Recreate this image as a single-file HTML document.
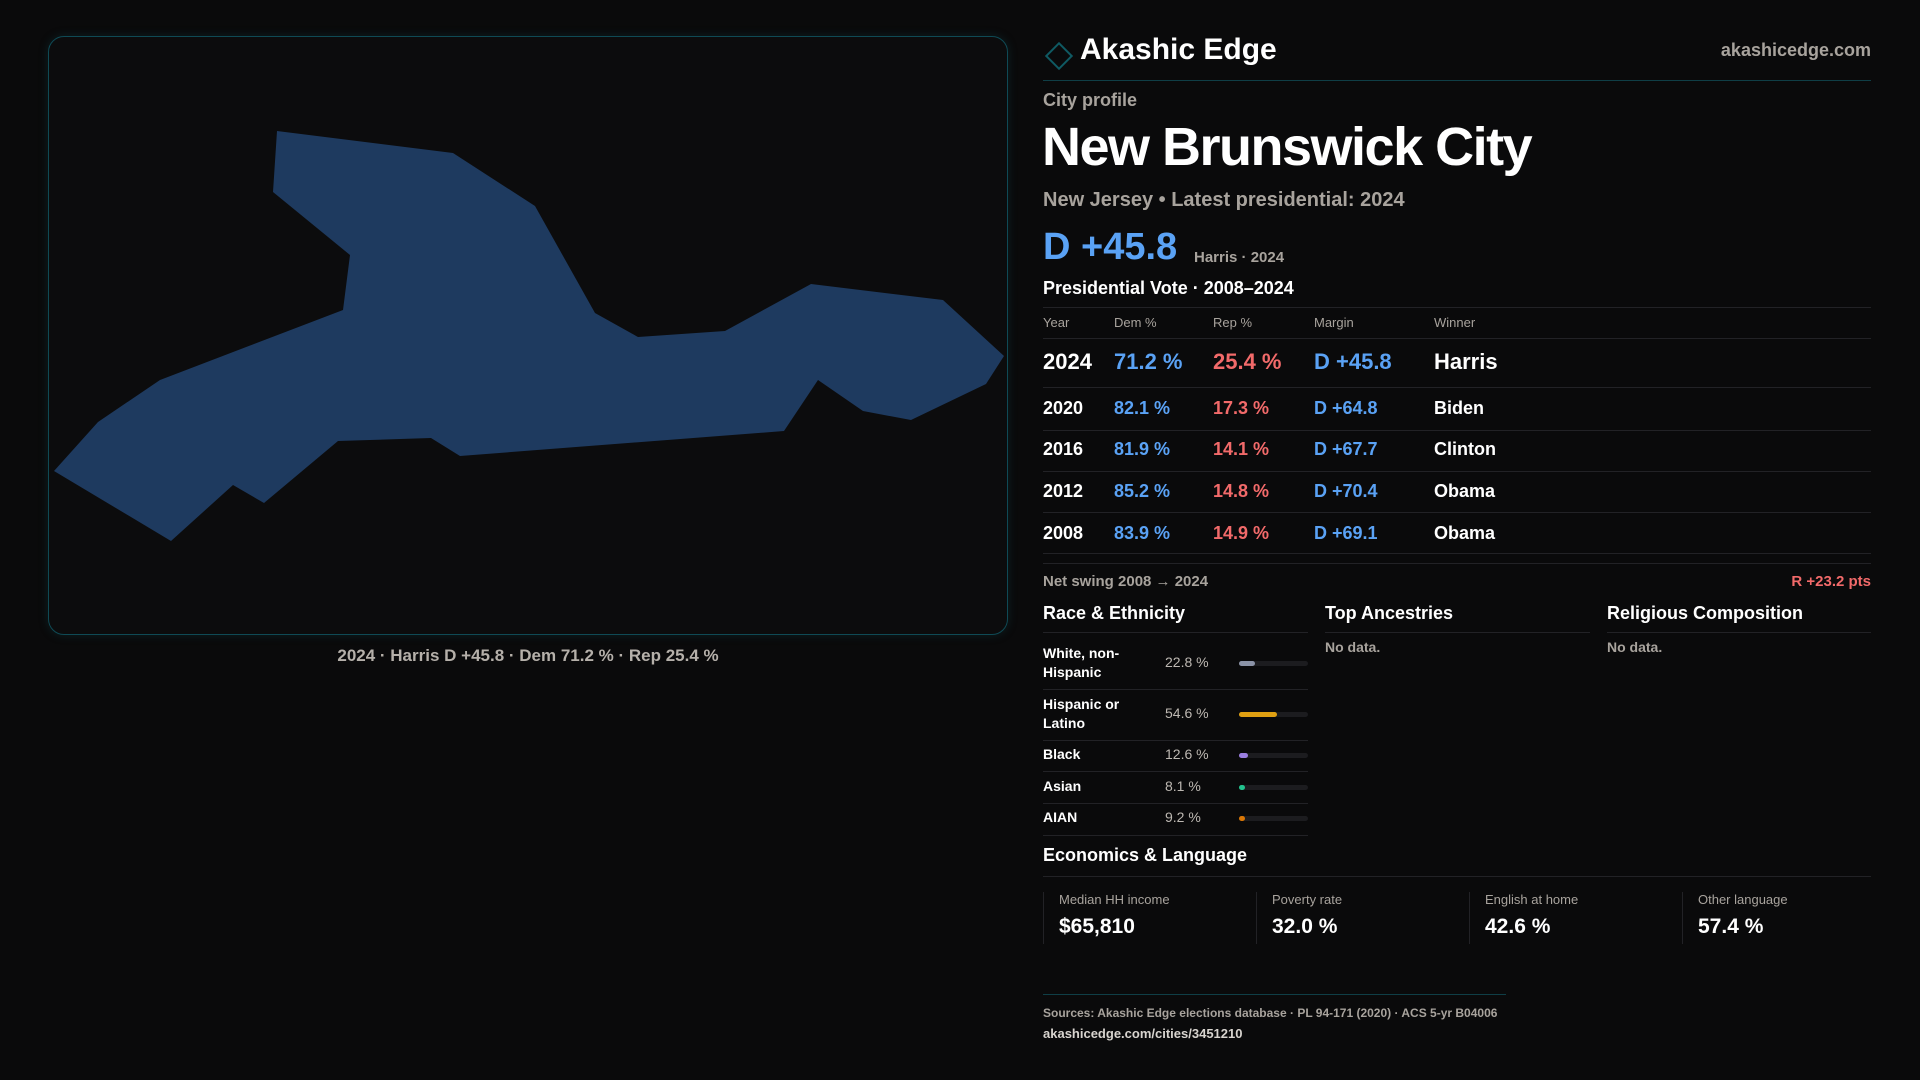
<!DOCTYPE html>
<html><head><meta charset="utf-8">
<style>
*{margin:0;padding:0;box-sizing:border-box}
body{width:1920px;height:1080px;background:#0a0a0b;font-family:"Liberation Sans",sans-serif;color:#fff;position:relative;overflow:hidden}
.a{position:absolute;white-space:nowrap}
.line{position:absolute;height:1px;background:#222226}
.blue{color:#5aa2f5}.red{color:#f26a6a}.grey{color:#a8a39d}
.th{font-size:13px;color:#a8a39d}
.rl{font-size:14px;font-weight:bold;line-height:19px}
.rv{font-size:14px;color:#bdb8b2}
.track{position:absolute;left:1239px;width:69px;height:5px;border-radius:3px;background:#1c1c1f}
.fill{position:absolute;left:0;top:0;height:5px;border-radius:3px}
.card{position:absolute;top:892px;height:52px;border-left:1px solid #222226;padding-left:15px}
.cl{font-size:13px;color:#a8a39d}
.cv{font-size:21px;font-weight:bold;margin-top:8px}
</style></head><body>
<div style="position:absolute;left:48px;top:36px;width:960px;height:599px;border:1px solid #0f4a55;border-radius:16px;background:#0c0c0d;box-shadow:0 0 10px rgba(20,90,100,0.25)"></div>
<svg class="a" style="left:0;top:0" width="1920" height="1080">
<polygon id="shape" fill="#1e3a5f" points=""></polygon>
</svg>
<div class="a" style="left:0;width:1056px;text-align:center;top:646px;font-size:17px;font-weight:bold;color:#b5b0aa">2024 · Harris D +45.8 · Dem 71.2 % · Rep 25.4 %</div>

<div class="a" style="left:1049px;top:46px;width:20px;height:20px;border:2px solid #0f5a63;transform:rotate(45deg)"></div>
<div class="a" style="left:1080px;top:33px;font-size:30px;font-weight:bold">Akashic Edge</div>
<div class="a" style="right:49px;top:40px;font-size:18px;font-weight:bold;color:#a8a39d">akashicedge.com</div>
<div class="line" style="left:1043px;width:828px;top:80px;background:#0f3e46"></div>

<div class="a grey" style="left:1043px;top:90px;font-size:18px;font-weight:bold">City profile</div>
<div class="a" style="left:1042px;top:116px;font-size:54px;font-weight:bold;letter-spacing:-1.5px">New Brunswick City</div>
<div class="a grey" style="left:1043px;top:189px;font-size:20px;font-weight:bold">New Jersey • Latest presidential: 2024</div>
<div class="a blue" style="left:1043px;top:226px;font-size:38px;font-weight:bold">D +45.8</div>
<div class="a grey" style="left:1194px;top:249px;font-size:15px;font-weight:bold">Harris · 2024</div>
<div class="a" style="left:1043px;top:278px;font-size:18px;font-weight:bold">Presidential Vote · 2008–2024</div>
<div class="line" style="left:1043px;width:828px;top:307px"></div>
<div class="a th" style="left:1043px;top:315px">Year</div>
<div class="a th" style="left:1114px;top:315px">Dem %</div>
<div class="a th" style="left:1213px;top:315px">Rep %</div>
<div class="a th" style="left:1314px;top:315px">Margin</div>
<div class="a th" style="left:1434px;top:315px">Winner</div>
<div class="line" style="left:1043px;width:828px;top:338px"></div>
<div id="vote-rows"></div>
<div class="line" style="left:1043px;width:828px;top:563px"></div>
<div class="a grey" style="left:1043px;top:573px;font-size:15px;font-weight:bold">Net swing 2008 → 2024</div>
<div class="a red" style="right:49px;top:573px;font-size:15px;font-weight:bold">R +23.2 pts</div>

<div class="a" style="left:1043px;top:603px;font-size:18px;font-weight:bold">Race &amp; Ethnicity</div>
<div class="a" style="left:1325px;top:603px;font-size:18px;font-weight:bold">Top Ancestries</div>
<div class="a" style="left:1607px;top:603px;font-size:18px;font-weight:bold">Religious Composition</div>
<div class="line" style="left:1043px;width:265px;top:632px"></div>
<div class="line" style="left:1325px;width:265px;top:632px"></div>
<div class="line" style="left:1607px;width:264px;top:632px"></div>
<div class="a grey" style="left:1325px;top:639px;font-size:14px;font-weight:bold">No data.</div>
<div class="a grey" style="left:1607px;top:639px;font-size:14px;font-weight:bold">No data.</div>
<div id="race-rows"></div>

<div class="a" style="left:1043px;top:845px;font-size:18px;font-weight:bold">Economics &amp; Language</div>
<div class="line" style="left:1043px;width:828px;top:876px"></div>
<div class="card" style="left:1043px"><div class="cl">Median HH income</div><div class="cv">$65,810</div></div>
<div class="card" style="left:1256px"><div class="cl">Poverty rate</div><div class="cv">32.0 %</div></div>
<div class="card" style="left:1469px"><div class="cl">English at home</div><div class="cv">42.6 %</div></div>
<div class="card" style="left:1682px"><div class="cl">Other language</div><div class="cv">57.4 %</div></div>

<div class="line" style="left:1043px;width:463px;top:994px;background:#0f3e46"></div>
<div class="a grey" style="left:1043px;top:1006px;font-size:12px;font-weight:bold">Sources: Akashic Edge elections database · PL 94-171 (2020) · ACS 5-yr B04006</div>
<div class="a" style="left:1043px;top:1026px;font-size:13px;font-weight:bold;color:#d8d4cf">akashicedge.com/cities/3451210</div>

<script>
const shapePts=[[277,131],[453,153],[535,206],[595,313],[638,337],[725,331],[811,284],[943,300],[1004,356],[986,384],[911,420],[863,411],[818,380],[784,431],[460,456],[431,438],[338,441],[264,503],[233,485],[171,541],[54,471],[98,422],[160,380],[343,310],[350,255],[273,192]];
document.getElementById('shape').setAttribute('points',shapePts.map(p=>p.join(',')).join(' '));

const years=['2024','2020','2016','2012','2008'];
const demPct=[71.2,82.1,81.9,85.2,83.9];
const repPct=[25.4,17.3,14.1,14.8,14.9];
const margins=[45.8,64.8,67.7,70.4,69.1];
const winners=['Harris','Biden','Clinton','Obama','Obama'];
const rowTops=[349,398,439,481,523];
const vr=document.getElementById('vote-rows');
years.forEach((y,i)=>{
  const big=i===0;const fs=big?22:18;const t=rowTops[i];
  const m=margins[i];
  const cells=[[1043,y,'#fff'],[1114,demPct[i].toFixed(1)+' %','#5aa2f5'],[1213,repPct[i].toFixed(1)+' %','#f26a6a'],[1314,(m>=0?'D +':'R +')+Math.abs(m).toFixed(1),m>=0?'#5aa2f5':'#f26a6a'],[1434,winners[i],'#fff']];
  cells.forEach(c=>{
    const d=document.createElement('div');
    
    
    d.className='a';
    d.style.cssText=`left:${c[0]}px;top:${t}px;font-size:${fs}px;font-weight:bold;color:${c[2]}`;
    d.textContent=c[1];vr.appendChild(d);
  });
});
[387,430,471,512,553].forEach(t=>{const l=document.createElement('div');l.className='line';l.style.cssText=`left:1043px;width:828px;top:${t}px`;vr.appendChild(l);});

const raceLabels=['White, non-<br>Hispanic','Hispanic or<br>Latino','Black','Asian','AIAN'];
const raceVals=[22.8,54.6,12.6,8.1,9.2];
const raceColors=['#8b93a7','#e0a012','#9b7fe0','#22c38e','#d97706'];
const raceMid=[663,714,755,787,818];
const rr=document.getElementById('race-rows');
raceVals.forEach((v,i)=>{
  const two=raceLabels[i].includes('<br>');
  const l=document.createElement('div');
  
  
  l.className='a rl';l.style.cssText=`left:1043px;top:${raceMid[i]-(two?19:10)}px`;l.innerHTML=raceLabels[i];rr.appendChild(l);
  const val=document.createElement('div');
  
  
  val.className='a rv';val.style.cssText=`left:1165px;top:${raceMid[i]-9}px`;val.textContent=v.toFixed(1)+' %';rr.appendChild(val);
  const tr=document.createElement('div');
  
  
  tr.className='track';tr.style.top=(raceMid[i]-2)+'px';
  const f=document.createElement('div');f.className='fill';f.style.width=Math.max(6,69*v/100)+'px';f.style.background=raceColors[i];tr.appendChild(f);rr.appendChild(tr);
});
[689,740,771,803,835].forEach(t=>{const l=document.createElement('div');l.className='line';l.style.cssText=`left:1043px;width:265px;top:${t}px`;rr.appendChild(l);});
</script>
</body></html>
